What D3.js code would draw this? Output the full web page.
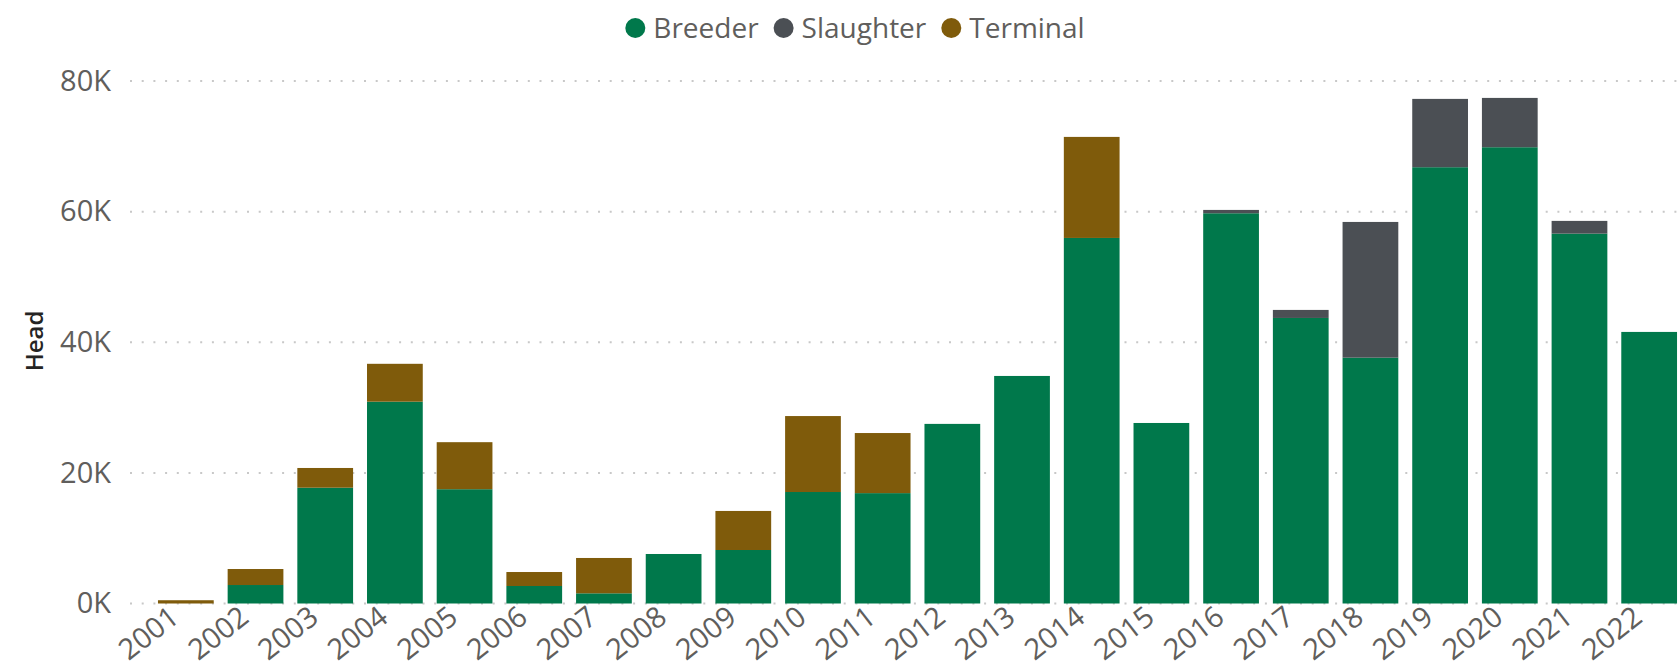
<!DOCTYPE html>
<html>
<head>
<meta charset="utf-8">
<script src="https://cdn.jsdelivr.net/npm/d3@7"></script>
<style>
  body { margin: 0; background: #fff; }
  svg { display: block; font-family: "Segoe UI", "Open Sans", sans-serif; }
</style>
</head>
<body>
<svg id="chart" width="1680" height="672"></svg>
<script>
const years = ['2001', '2002', '2003', '2004', '2005', '2006', '2007', '2008', '2009', '2010', '2011',
  '2012', '2013', '2014', '2015', '2016', '2017', '2018', '2019', '2020', '2021', '2022'];
const breeder = [0, 2830, 17730, 30900, 17500, 2680, 1560, 7580, 8190, 17070, 16900,
  27500, 34840, 55970, 27640, 59750, 43720, 37640, 66800, 69860, 56630, 41580];
const slaughter = [0, 0, 0, 0, 0, 0, 0, 0, 0, 0, 0,
  0, 0, 0, 0, 510, 1230, 20780, 10460, 7550, 1950, 0];
const terminal = [500, 2450, 3020, 5800, 7200, 2140, 5410, 0, 5980, 11630, 9200,
  0, 0, 15470, 0, 0, 0, 0, 0, 0, 0, 0];
const seriesNames = ['Breeder', 'Slaughter', 'Terminal'];
const yTicks = [0, 20000, 40000, 60000, 80000];

const colors = { Breeder: '#00784b', Slaughter: '#4b4f54', Terminal: '#7f5b0b' };

const svg = d3.select('#chart');
const width = +svg.attr('width');

const rows = years.map((y, i) => ({
  year: y, Breeder: breeder[i], Slaughter: slaughter[i], Terminal: terminal[i]
}));

const x = d3.scaleBand()
  .domain(years)
  .range([151, 1684])
  .paddingInner(0.2)
  .paddingOuter(0.1);

const y = d3.scaleLinear()
  .domain([0, 80000])
  .range([603.5, 81]);

// gridlines
svg.append('g')
  .selectAll('line')
  .data(yTicks)
  .enter()
  .append('line')
  .attr('x1', 130)
  .attr('x2', width)
  .attr('y1', (d) => y(d))
  .attr('y2', (d) => y(d))
  .attr('stroke', '#c8c8c8')
  .attr('stroke-width', 2)
  .attr('stroke-dasharray', '2 9.7');

// y axis
const yAxis = svg.append('g')
  .attr('transform', 'translate(130,0)')
  .call(d3.axisLeft(y).tickValues(yTicks).tickSize(0).tickPadding(19)
    .tickFormat((d) => d / 1000 + 'K'));
yAxis.select('.domain').remove();
yAxis.selectAll('text')
  .attr('fill', '#605e5c')
  .style('font-size', '29px')
  .style('font-family', '"Segoe UI", "Open Sans", sans-serif');

// y title
svg.append('text')
  .attr('transform', 'translate(33,341) rotate(-90)')
  .attr('text-anchor', 'middle')
  .attr('dominant-baseline', 'central')
  .attr('fill', '#252423')
  .style('font-size', '24px')
  .style('font-weight', 600)
  .text('Head');

// bars
const stacked = d3.stack().keys(seriesNames)(rows);
svg.append('g')
  .selectAll('g')
  .data(stacked)
  .enter()
  .append('g')
  .attr('fill', (s) => colors[s.key])
  .selectAll('rect')
  .data((s) => s.filter((d) => d[1] > d[0]))
  .enter()
  .append('rect')
  .attr('x', (d) => x(d.data.year))
  .attr('width', x.bandwidth())
  .attr('y', (d) => y(d[1]))
  .attr('height', (d) => y(d[0]) - y(d[1]));

// x axis
const xAxis = svg.append('g')
  .attr('transform', `translate(0,${y(0)})`)
  .call(d3.axisBottom(x).tickSize(0));
xAxis.select('.domain').remove();
xAxis.selectAll('text')
  .attr('x', 0)
  .attr('y', 0)
  .attr('dy', 0)
  .attr('transform', 'translate(-5,17) rotate(-38)')
  .style('text-anchor', 'end')
  .attr('fill', '#605e5c')
  .style('font-size', '29px')
  .style('font-family', '"Segoe UI", "Open Sans", sans-serif');

// legend
const legend = svg.append('g');
let lx = 0;
seriesNames.forEach((name) => {
  const item = legend.append('g').attr('transform', `translate(${lx},0)`);
  item.append('circle').attr('cx', 10).attr('cy', 28).attr('r', 10).attr('fill', colors[name]);
  const t = item.append('text')
    .attr('x', 28)
    .attr('y', 28)
    .attr('dy', '0.35em')
    .attr('fill', '#605e5c')
    .style('font-size', '28px')
    .text(name);
  lx += 28 + t.node().getComputedTextLength() + 15;
});
const legendW = lx - 15;
legend.attr('transform', `translate(${855 - legendW / 2},0)`);
</script>
</body>
</html>
